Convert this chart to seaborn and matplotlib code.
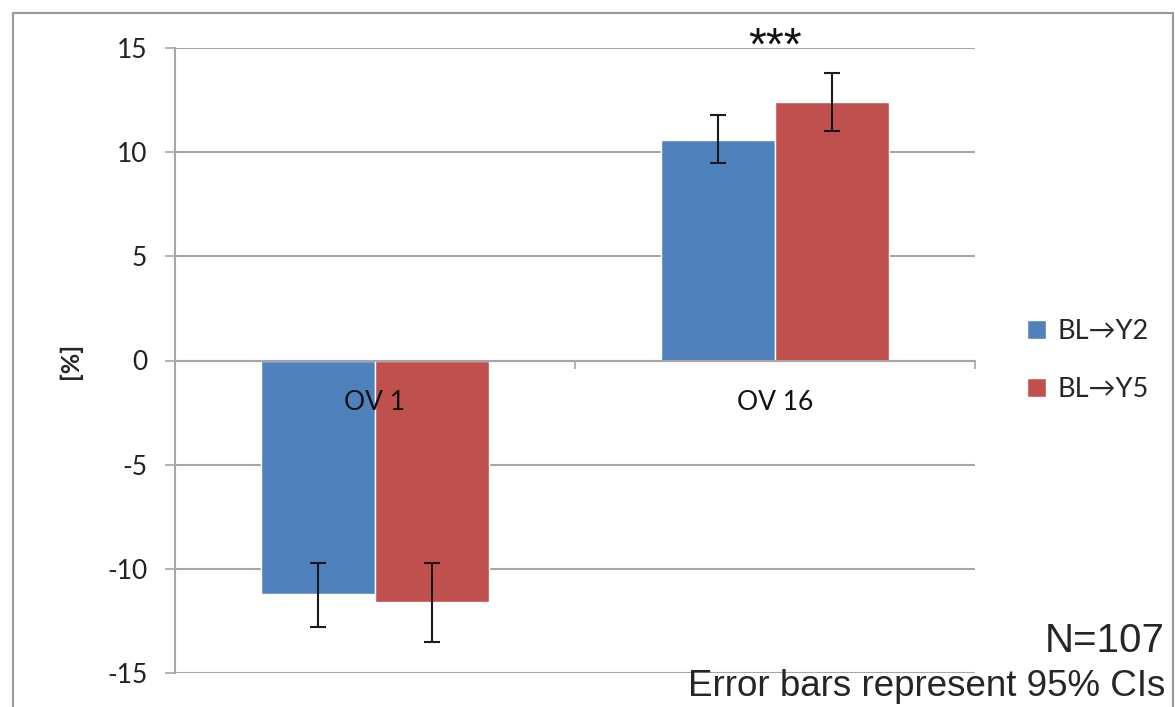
import pandas as pd
import numpy as np
import matplotlib.pyplot as plt
import seaborn as sns
from matplotlib.patches import Rectangle

# chart data
categories = ['OV 1', 'OV 16']
series = ['BL\u2192Y2', 'BL\u2192Y5']
y2_values = [-11.2, 10.6]
y5_values = [-11.6, 12.4]
y2_ci_low = [-12.8, 9.5]
y2_ci_high = [-9.7, 11.8]
y5_ci_low = [-13.5, 11.0]
y5_ci_high = [-9.7, 13.8]
y_ticks = [-15, -10, -5, 0, 5, 10, 15]
colors = ['#4F81BD', '#C0504D']

df = pd.DataFrame({
    'category': categories * 2,
    'series': [series[0]] * 2 + [series[1]] * 2,
    'value': y2_values + y5_values,
    'low': y2_ci_low + y5_ci_low,
    'high': y2_ci_high + y5_ci_high,
})

sns.set_style('white')
plt.rcParams['font.family'] = ['Lato', 'DejaVu Sans']

fig = plt.figure(figsize=(11.75, 7.07), dpi=100)
ax = fig.add_axes([175 / 1175, 1 - 673 / 707, 800 / 1175, 625 / 707])

sns.barplot(data=df, x='category', y='value', hue='series', palette=colors,
            width=0.57, gap=0, errorbar=None, saturation=1, ax=ax, zorder=2)

# error bars on bar centers
for container, s in zip(ax.containers, series):
    sub = df[df['series'] == s]
    xs = [b.get_x() + b.get_width() / 2 for b in container]
    vals = sub['value'].to_numpy()
    yerr = np.vstack([vals - sub['low'].to_numpy(), sub['high'].to_numpy() - vals])
    ax.errorbar(xs, vals, yerr=yerr, fmt='none', ecolor='#1a1a1a',
                elinewidth=1.5, capsize=5.5, capthick=1.5, zorder=3)

grid_c = '#A6A6A6'
ax.set_ylim(-15, 15)
ax.set_xlim(-0.5, 1.5)
ax.set_yticks(y_ticks)
ax.set_yticklabels([str(t) for t in y_ticks], fontsize=19, color='#222222')
ax.yaxis.grid(True, color=grid_c, linewidth=1.5)
ax.set_axisbelow(True)
ax.tick_params(axis='y', direction='out', length=7, width=1.2, color=grid_c, pad=13, left=True)

for side in ['top', 'right']:
    ax.spines[side].set_visible(False)
ax.spines['left'].set_color(grid_c)
ax.spines['left'].set_linewidth(1.5)
ax.spines['bottom'].set_position(('data', 0))
ax.spines['bottom'].set_color(grid_c)
ax.spines['bottom'].set_linewidth(1.5)

ax.set_xticks([-0.5, 0.5, 1.5])
ax.set_xticklabels([])
ax.tick_params(axis='x', direction='out', length=6, width=1.2, color=grid_c, bottom=True)
ax.set_xlabel('')
ax.set_ylabel('[%]', fontsize=18, fontweight='bold', labelpad=18)

for i, c in enumerate(categories):
    ax.annotate(c, xy=(i, 0), xytext=(0, -30), textcoords='offset points',
                ha='center', va='center', fontsize=19, color='#111111', zorder=5)

ax.text(1, 14.45, '***', ha='center', va='baseline', fontsize=33,
        fontfamily='Liberation Sans', color='#111111')

leg = ax.legend(loc='center left', bbox_to_anchor=(1.035, 0.5), frameon=False,
                fontsize=19.5, handlelength=0.7, handleheight=0.7, handletextpad=0.4,
                labelspacing=1.25)

fig.text(1165 / 1175, 1 - 641 / 707, 'N=107', ha='right', va='center',
         fontsize=29, fontfamily='Liberation Sans')
fig.text(1165 / 1175, 1 - 686 / 707, 'Error bars represent 95% CIs', ha='right', va='center',
         fontsize=26.5, fontfamily='Liberation Sans')

fig.patches.append(Rectangle((13 / 1175, -0.05), (1173 - 13) / 1175, 1.05 - 13 / 707,
                             transform=fig.transFigure, fill=False, edgecolor='#999999',
                             linewidth=1.5, zorder=0))

fig.savefig('out.png', dpi=100)
